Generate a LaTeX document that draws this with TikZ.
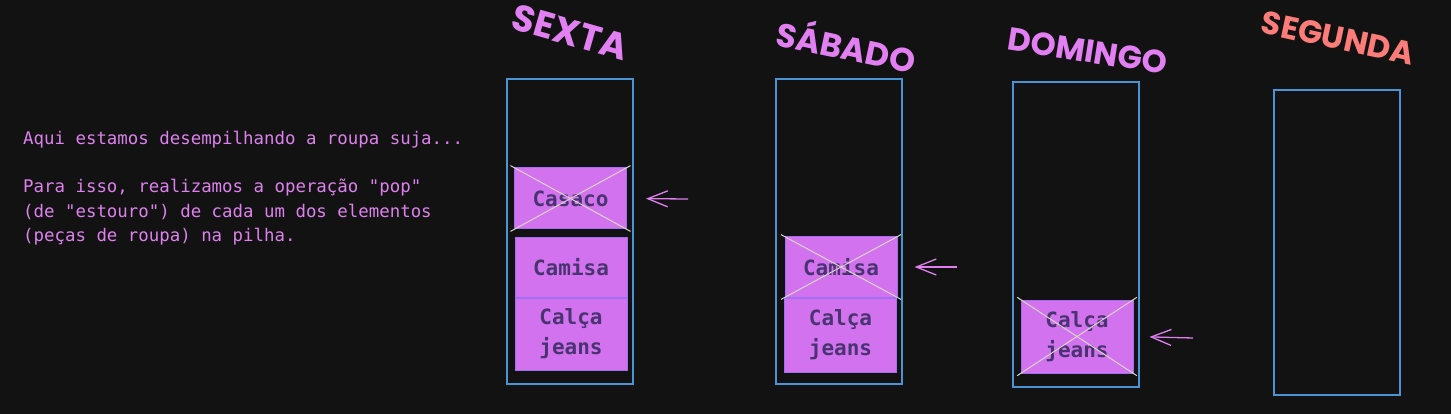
\documentclass[tikz,border=0pt]{standalone}
\usepackage{fontspec}
\setmonofont{DejaVu Sans Mono}
\newfontfamily\handfont{Poppins}
\usetikzlibrary{arrows.meta, positioning}
\definecolor{bgdark}{RGB}{18,18,18}
\definecolor{stackblue}{RGB}{74,148,214}
\definecolor{itemfill}{RGB}{211,114,238}
\definecolor{itemedge}{RGB}{160,112,240}
\definecolor{itemtext}{RGB}{72,52,112}
\definecolor{crossgray}{RGB}{214,214,204}
\definecolor{daypurple}{RGB}{226,128,243}
\definecolor{daysalmon}{RGB}{255,124,120}
\definecolor{notepink}{RGB}{222,128,238}

\begin{document}
\begin{tikzpicture}[x=1pt, y=-1pt,
  stackbox/.style={draw=stackblue, line width=1.3pt, minimum width=126pt, minimum height=305pt, inner sep=0pt},
  itembox/.style={draw=itemedge, line width=1pt, fill=itemfill, minimum width=112pt, inner sep=0pt, align=center, text=itemtext, font=\ttfamily\bfseries\fontsize{21}{30}\selectfont},
  crossline/.style={crossgray, line width=1pt, shorten <=-4pt, shorten >=-4pt},
  poparrow/.style={notepink, line width=1.3pt, shorten >=17pt, -{Straight Barb[length=20pt, width=16pt]}},
  daytitle/.style={font=\handfont\bfseries\fontsize{#1}{#1}\selectfont, inner sep=0pt},
  daytitle/.default=34,
  noteline/.style={anchor=base west, inner sep=0pt, text=notepink, font=\ttfamily\fontsize{17.4}{24}\selectfont}
]
  \fill[bgdark] (0,0) rectangle (1451,414);
  \useasboundingbox (0,0) rectangle (1451,414);

  % texto explicativo
  \node[noteline] (intro) at (23,145) {Aqui estamos desempilhando a roupa suja...};
  \node[noteline] (para1) at (23,193) {Para isso, realizamos a operação "pop"};
  \node[noteline] (para2) at (23,218) {(de "estouro") de cada um dos elementos};
  \node[noteline] (para3) at (23,242) {(peças de roupa) na pilha.};

  % dias
  \node[daytitle=37, text=daypurple, rotate=-16] (sexta-title) at (570,32) {SEXTA};
  \node[daytitle=33, text=daypurple, rotate=-12] (sabado-title) at (847,44) {SÁBADO};
  \node[daytitle=32, text=daypurple, rotate=-9] (domingo-title) at (1088,51) {DOMINGO};
  \node[daytitle=32, text=daysalmon, rotate=-12] (segunda-title) at (1338,38) {SEGUNDA};

  % pilhas
  \node[stackbox] (sexta) at (570,231.5) {};
  \node[stackbox] (sabado) at (839,231.5) {};
  \node[stackbox] (domingo) at (1076,234.5) {};
  \node[stackbox] (segunda) at (1337,242.5) {};

  % sexta
  \node[itembox, minimum height=61pt] (casaco) at (570.5,198.5) {Casaco};
  \node[itembox, minimum height=59pt] (camisa) at (571,267.5) {Camisa};
  \node[itembox, minimum height=72pt] (calca) at (571,334) {Calça\\jeans};
  \draw[crossline] (casaco.north west) -- (casaco.south east);
  \draw[crossline] (casaco.south west) -- (casaco.north east);

  % sabado
  \node[itembox, minimum height=60pt] (camisa-sab) at (841,267) {Camisa};
  \node[itembox, minimum height=74pt] (calca-sab) at (840.5,335) {Calça\\jeans};
  \draw[crossline] (camisa-sab.north west) -- (camisa-sab.south east);
  \draw[crossline] (camisa-sab.south west) -- (camisa-sab.north east);

  % domingo
  \node[itembox, minimum height=73pt] (calca-dom) at (1077,336.5) {Calça\\jeans};
  \draw[crossline] (calca-dom.north west) -- (calca-dom.south east);
  \draw[crossline] (calca-dom.south west) -- (calca-dom.north east);

  % pop
  \coordinate (pop-sexta) at (688,199);
  \coordinate (pop-sabado) at (957,267);
  \coordinate (pop-domingo) at (1193,338);
  \draw[poparrow, shorten >=19pt] (pop-sexta) -- (casaco.east);
  \draw[poparrow] (pop-sabado) -- (camisa-sab.east);
  \draw[poparrow, shorten >=16pt] (pop-domingo) -- (calca-dom.east);
\end{tikzpicture}
\end{document}
